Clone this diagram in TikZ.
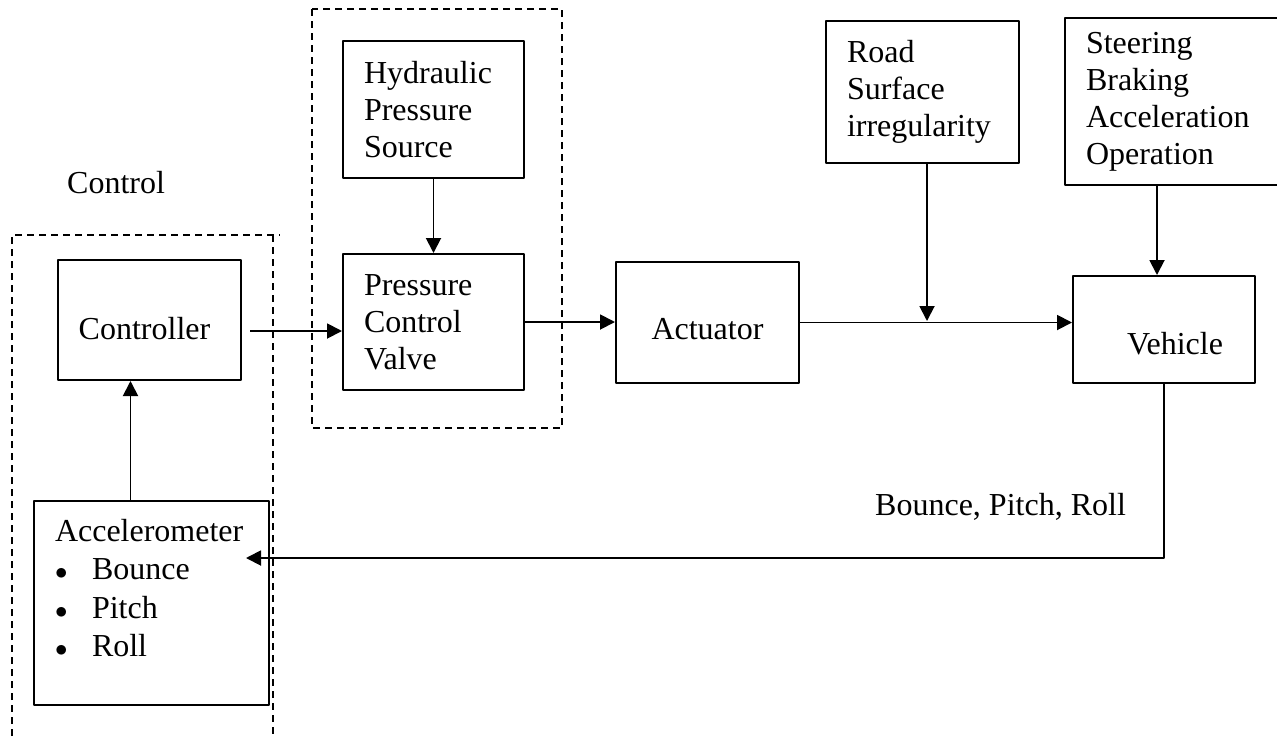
\documentclass[tikz,border=0pt]{standalone}
\usepackage{fontspec}
\setmainfont{Liberation Serif}
\usetikzlibrary{arrows.meta,calc}
\tikzset{
	blk/.style={draw, line width=2pt, inner ysep=0pt, anchor=north west},
	txtblk/.style={blk, align=left, inner xsep=21pt},
	arrowline/.style={line width=1.9pt, -{Triangle[length=15pt,width=15pt]}},
	grp/.style={line width=1.8pt, dash pattern=on 7pt off 5pt}
}
\newcommand{\bitem}[1]{\makebox[37pt][l]{$\bullet$}#1}
\begin{document}
\begin{tikzpicture}[x=1pt, y=-1pt, font=\fontsize{32}{37}\selectfont, line join=round]
			\useasboundingbox (0,0) rectangle (1277,737);
			\clip (0,0) rectangle (1277,737);
			\node[blk, minimum width=183pt, minimum height=120pt, text height=38pt, text depth=0pt] (ctrl) at (57,259) {Controller\hspace*{10pt}};
			\node[txtblk, text width=139pt, minimum height=137pt] (hyd) at (342,40) {Hydraulic\\ Pressure\\ Source};
			\node[txtblk, text width=139pt, minimum height=136pt] (pcv) at (342,253) {Pressure\\ Control\\ Valve};
			\node[blk, minimum width=183pt, minimum height=121pt, text height=33pt, text depth=0pt] (act) at (615,261) {Actuator};
			\node[txtblk, text width=151pt, minimum height=142pt] (road) at (825,20) {Road\\ Surface\\ irregularity};
			\node[txtblk, text width=188pt, minimum height=167pt] (steer) at (1064,17) {Steering\\ Braking\\ Acceleration\\ Operation};
			\node[blk, minimum width=182pt, minimum height=107pt, text height=49pt, text depth=0pt] (veh) at (1072,275) {\hspace*{22pt}Vehicle};
			\node[txtblk, text width=193pt, minimum height=204pt, text height=22pt, text depth=146pt, font=\fontsize{32}{38.5}\selectfont] (acc) at (33,500)
				{Accelerometer\\ \bitem{Bounce}\\ \bitem{Pitch}\\ \bitem{Roll}};
			\node[anchor=base west, inner sep=0pt] (ctrllabel) at (67,193) {Control};
			\node[anchor=base west, inner sep=0pt] (fblabel) at (875,515) {Bounce, Pitch, Roll};
			\draw[grp] (12,760) |- (280,235);
			\draw[grp] (273,235) -- (273,760);
			\draw[grp] (312,9) rectangle (562,428);
			\coordinate (junc) at (927,321);
			\coordinate (vin) at ([xshift=-7pt]veh.north);
			\coordinate (fbin) at ([shift={(-24pt,45pt)}]acc.east);
			\draw[arrowline] ([shift={(8pt,-11pt)}]ctrl.east) coordinate (c1) -- (c1 -| pcv.west);
			\draw[arrowline] (hyd.south) -- (pcv.north);
			\draw[arrowline] (pcv.east) -- (pcv.east -| act.west);
			\draw[arrowline] (act.east) -- (act.east -| veh.west);
			\draw[arrowline] (road.south -| junc) -- (junc);
			\draw[arrowline] (steer.south -| vin) -- (vin);
			\draw[arrowline] (veh.south) |- (fbin);
			\draw[arrowline] ([xshift=-21pt]acc.north) -- ([xshift=-21pt]acc.north |- ctrl.south);
	\end{tikzpicture}
\end{document}
